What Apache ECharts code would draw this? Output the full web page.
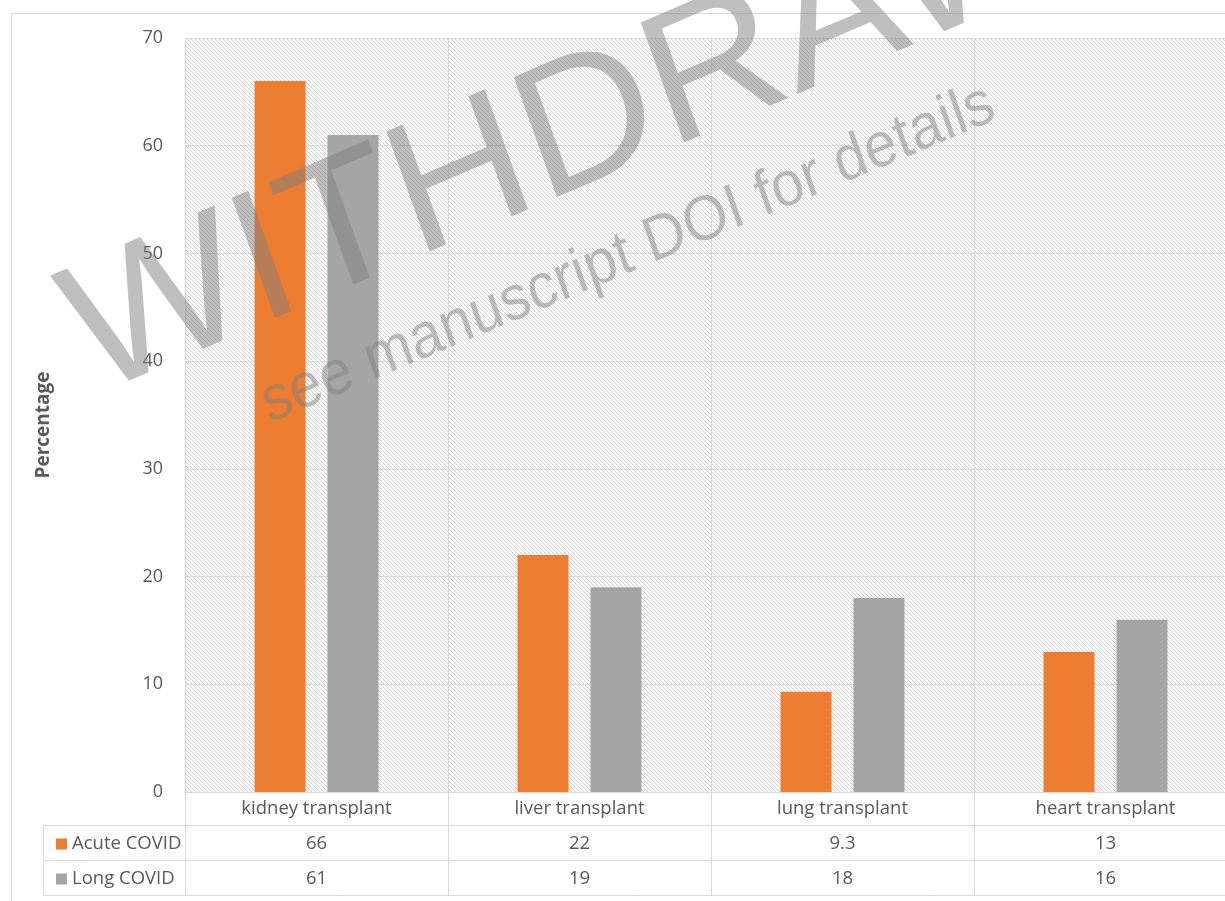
<!DOCTYPE html>
<html>
<head>
<meta charset="utf-8">
<script src="https://cdn.jsdelivr.net/npm/echarts@6/dist/echarts.min.js"></script>
<style>
html,body{margin:0;padding:0;background:#fff;}
#chart{width:1225px;height:901px;}
</style>
</head>
<body>
<div id="chart"></div>
<script>
const categories = ['kidney transplant', 'liver transplant', 'lung transplant', 'heart transplant'];
const seriesNames = ['Acute COVID', 'Long COVID'];
const acuteCovid = [66, 22, 9.3, 13];
const longCovid = [61, 19, 18, 16];
const yTicks = [0, 10, 20, 30, 40, 50, 60, 70];
const yAxisTitle = 'Percentage';
const watermarkMain = 'WITHDRAWN';
const watermarkSub = 'see manuscript DOI for details';

const FONT = '"Open Sans", "Noto Sans", sans-serif';
const WFONT = '"Liberation Sans", Arial, sans-serif';
const TXT = '#595959';
const LINE = '#d9d9d9';
const WM = 'rgba(128,128,128,0.5)';
const STRETCH_Y = 1.091;

// light downward diagonal hatch
const P = 4;
const tile = document.createElement('canvas');
tile.width = P; tile.height = P;
const tctx = tile.getContext('2d');
tctx.fillStyle = '#ffffff';
tctx.fillRect(0, 0, P, P);
tctx.fillStyle = '#cfcfcf';
for (let i = 0; i < P; i++) { tctx.fillRect(i, i, 1, 1); }

const chart = echarts.init(document.getElementById('chart'), null, {renderer: 'canvas'});

const gridLeft = 185, gridTop = 38, gridBottomY = 792, gridWidth = 1052;
const tableRows = [825, 860, 895];

function hline(y, x1) {
  return {type: 'line', silent: true, shape: {x1: x1, y1: y + 0.5, x2: 1225, y2: y + 0.5},
          style: {stroke: LINE, lineWidth: 1}};
}

const option = {
  animation: false,
  backgroundColor: '#ffffff',
  grid: {
    left: gridLeft, top: gridTop, width: gridWidth, height: gridBottomY - gridTop,
    outerBoundsMode: 'none',
    containLabel: false,
    show: true,
    backgroundColor: {image: tile, repeat: 'repeat'},
    borderWidth: 0
  },
  legend: {
    data: seriesNames,
    orient: 'vertical',
    left: 51, top: 829.5,
    itemWidth: 11, itemHeight: 11, itemGap: 16,
    icon: 'rect',
    selectedMode: false,
    textStyle: {fontFamily: FONT, fontSize: 18.5, color: TXT, lineHeight: 19}
  },
  xAxis: {
    type: 'category',
    data: categories,
    axisLine: {show: true, lineStyle: {color: LINE, width: 1}},
    axisTick: {show: true, length: 103, lineStyle: {color: LINE, width: 1}},
    splitLine: {show: true, interval: 0, lineStyle: {color: LINE, width: 1}},
    axisLabel: {
      interval: 0,
      margin: -1,
      hideOverlap: false,
      fontFamily: FONT, fontSize: 18.5, color: TXT, lineHeight: 35,
      formatter: function (value, index) {
        return value + '\n' + acuteCovid[index] + '\n' + longCovid[index];
      }
    }
  },
  yAxis: {
    type: 'value',
    min: yTicks[0], max: yTicks[yTicks.length - 1], interval: yTicks[1] - yTicks[0],
    name: yAxisTitle,
    nameLocation: 'middle',
    nameGap: 132,
    nameTextStyle: {fontFamily: FONT, fontSize: 19, fontWeight: 'bold', color: TXT, padding: [0, 20, 0, 0]},
    axisLine: {show: false},
    axisTick: {show: false},
    axisLabel: {margin: 22, fontFamily: FONT, fontSize: 18, color: TXT},
    splitLine: {show: true, lineStyle: {color: LINE, width: 1}}
  },
  series: [
    {name: seriesNames[0], type: 'bar', data: acuteCovid, barWidth: '19.4%', barGap: '43%',
     itemStyle: {color: '#ED7D31'}},
    {name: seriesNames[1], type: 'bar', data: longCovid, barWidth: '19.4%', barGap: '43%',
     itemStyle: {color: '#A5A5A5'}}
  ],
  graphic: [
    {type: 'line', silent: true, shape: {x1: 11.5, y1: 13.5, x2: 1225, y2: 13.5}, style: {stroke: LINE, lineWidth: 1}},
    {type: 'line', silent: true, shape: {x1: 11.5, y1: 13.5, x2: 11.5, y2: 901}, style: {stroke: LINE, lineWidth: 1}},
    hline(tableRows[0], 43.5),
    hline(tableRows[1], 43.5),
    hline(tableRows[2], 43.5),
    {type: 'line', silent: true, shape: {x1: 43.5, y1: tableRows[0] + 0.5, x2: 43.5, y2: tableRows[2] + 0.5},
     style: {stroke: LINE, lineWidth: 1}},
    {type: 'group', x: 75.2, y: 348, scaleY: STRETCH_Y, silent: true, z: 100,
     children: [
       {type: 'text', x: 0, y: 0, rotation: 0.3744, scaleX: 1.10, z: 100, silent: true,
        style: {text: watermarkMain, fontFamily: WFONT, fontSize: 172, fill: WM, align: 'left', verticalAlign: 'middle'}}
     ]},
    {type: 'group', x: 263.8, y: 406.5, scaleY: STRETCH_Y, silent: true, z: 100,
     children: [
       {type: 'text', x: 0, y: 0, rotation: 0.3658, z: 100, silent: true,
        style: {text: watermarkSub, fontFamily: WFONT, fontSize: 58, fill: WM, align: 'left', verticalAlign: 'middle'}}
     ]}
  ]
};
chart.setOption(option);
</script>
</body>
</html>
